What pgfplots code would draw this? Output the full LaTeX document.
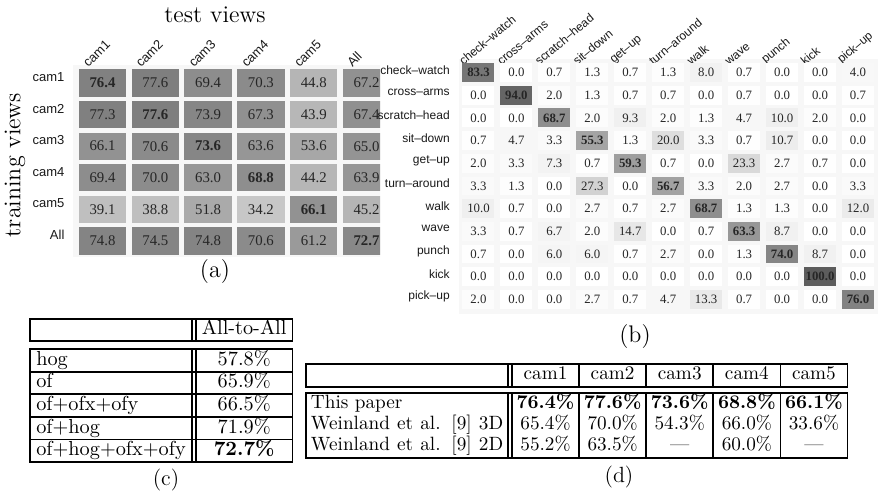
\documentclass[border=0pt]{standalone}
\usepackage{pgfplots}
\pgfplotsset{compat=1.18}
\usepackage{pgfplotstable}
\usepackage{graphicx}
\usepackage{fontspec}
\newfontfamily\helv{Liberation Sans}
\newfontfamily\timesf{Liberation Serif}

% heat-map cells, fixed size, filled with the colour mapped from the cell value
\pgfdeclareplotmark{cellA}{\pgfsetfillcolor{mapped color}\pgfpathrectangle{\pgfpoint{-11.85pt}{-6.8pt}}{\pgfpoint{23.7pt}{13.6pt}}\pgfusepathqfill}
\pgfdeclareplotmark{cellB}{\pgfsetfillcolor{mapped color}\pgfpathrectangle{\pgfpoint{-8pt}{-4.7pt}}{\pgfpoint{16pt}{9.4pt}}\pgfusepathqfill}
% an empty mark that only carries the value label
\pgfdeclareplotmark{blank}{}

% (a) accuracy: column c = test view, row r = training view (cam1 = 5 ... All = 0)
\pgfplotstableread{
c r v
1 5 77.6
2 5 69.4
3 5 70.3
4 5 44.8
5 5 67.2
0 4 77.3
2 4 73.9
3 4 67.3
4 4 43.9
5 4 67.4
0 3 66.1
1 3 70.6
3 3 63.6
4 3 53.6
5 3 65.0
0 2 69.4
1 2 70.0
2 2 63.0
4 2 44.2
5 2 63.9
0 1 39.1
1 1 38.8
2 1 51.8
3 1 34.2
5 1 45.2
0 0 74.8
1 0 74.5
2 0 74.8
3 0 70.6
4 0 61.2
}\viewtab
\pgfplotstableread{
c r v
0 5 76.4
1 4 77.6
2 3 73.6
3 2 68.8
4 1 66.1
5 0 72.7
}\viewdiag

% (b) confusion matrix: column c = predicted, row r = true (check-watch = 10 ... pick-up = 0)
\pgfplotstableread{
c r v
1 10 0.0
2 10 0.7
3 10 1.3
4 10 0.7
5 10 1.3
6 10 8.0
7 10 0.7
8 10 0.0
9 10 0.0
10 10 4.0
0 9 0.0
2 9 2.0
3 9 1.3
4 9 0.7
5 9 0.7
6 9 0.0
7 9 0.7
8 9 0.0
9 9 0.0
10 9 0.7
0 8 0.0
1 8 0.0
3 8 2.0
4 8 9.3
5 8 2.0
6 8 1.3
7 8 4.7
8 8 10.0
9 8 2.0
10 8 0.0
0 7 0.7
1 7 4.7
2 7 3.3
4 7 1.3
5 7 20.0
6 7 3.3
7 7 0.7
8 7 10.7
9 7 0.0
10 7 0.0
0 6 2.0
1 6 3.3
2 6 7.3
3 6 0.7
5 6 0.7
6 6 0.0
7 6 23.3
8 6 2.7
9 6 0.7
10 6 0.0
0 5 3.3
1 5 1.3
2 5 0.0
3 5 27.3
4 5 0.0
6 5 3.3
7 5 2.0
8 5 2.7
9 5 0.0
10 5 3.3
0 4 10.0
1 4 0.7
2 4 0.0
3 4 2.7
4 4 0.7
5 4 2.7
7 4 1.3
8 4 1.3
9 4 0.0
10 4 12.0
0 3 3.3
1 3 0.7
2 3 6.7
3 3 2.0
4 3 14.7
5 3 0.0
6 3 0.7
8 3 8.7
9 3 0.0
10 3 0.0
0 2 0.7
1 2 0.0
2 2 6.0
3 2 6.0
4 2 0.7
5 2 2.7
6 2 0.0
7 2 1.3
9 2 8.7
10 2 0.0
0 1 0.0
1 1 0.0
2 1 0.0
3 1 0.0
4 1 0.0
5 1 0.0
6 1 0.0
7 1 0.0
8 1 0.0
10 1 0.0
0 0 2.0
1 0 0.0
2 0 0.0
3 0 2.7
4 0 0.7
5 0 4.7
6 0 13.3
7 0 0.7
8 0 0.0
9 0 0.0
}\actiontab
\pgfplotstableread{
c r v
0 10 83.3
1 9 94.0
2 8 68.7
3 7 55.3
4 6 59.3
5 5 56.7
6 4 68.7
7 3 63.3
8 2 74.0
9 1 100.0
10 0 76.0
}\actiondiag

\pgfplotsset{
  heat/.style={
    axis background/.style={fill=black!3},
    axis line style={draw=none},
    major tick length=0pt,
    tick style={draw=none},
    colormap={gw}{color(0cm)=(white); color(1cm)=(black!64)},
    point meta min=0, point meta max=100,
    xticklabel pos=upper,
    ticklabel style={text=black!90},
  },
  % coloured cells only
  cells/.style={
    scatter, only marks, mark=#1,
    point meta=explicit,
    scatter/use mapped color={draw=none, fill=mapped color},
  },
  % cell values printed on top of the cells
  values/.style={
    only marks, mark=blank,
    mark options={draw=none, fill=none},
    point meta=explicit,
    nodes near coords={\pgfmathprintnumber[fixed,fixed zerofill,precision=1,assume math mode=true]{\pgfplotspointmeta}},
    every node near coord/.append style={anchor=center, text=black!85, font=#1},
  },
}

\begin{document}
\begin{tikzpicture}
\useasboundingbox (0,0) rectangle (439.5pt,248pt);

% (a) cross-view accuracy
\begin{scope}
\clip (0,0) rectangle (190pt,248pt);
\begin{axis}[heat,
  at={(36.73pt,119.6pt)}, anchor=south west,
  x=26.4pt, y=15.8pt,
  xmin=-0.55, xmax=5.55, ymin=-0.5, ymax=5.57,
  xtick={0,...,5}, xticklabels={cam1,cam2,cam3,cam4,cam5,All},
  ytick={0,...,5}, yticklabels={All,cam5,cam4,cam3,cam2,cam1},
  xticklabel style={font=\helv\fontsize{6.5}{7}\selectfont, inner sep=0.5pt, xshift=-7pt, yshift=-2.5pt, rotate=45, anchor=south west},
  yticklabel style={font=\helv\fontsize{6.5}{7}\selectfont, anchor=east, yshift=3pt, xshift=-1pt},
]
\addplot[cells=cellA] table[x=c, y=r, meta=v] {\viewtab};
\addplot[cells=cellA] table[x=c, y=r, meta=v] {\viewdiag};
\addplot[values={\timesf\fontsize{7.4}{8}\selectfont}] table[x=c, y=r, meta=v] {\viewtab};
\addplot[values={\timesf\bfseries\fontsize{7.4}{8}\selectfont}] table[x=c, y=r, meta=v] {\viewdiag};
\end{axis}
\end{scope}
\node[font=\fontsize{12}{14}\selectfont] at (107.5pt,240.5pt) {test views};
\node[font=\fontsize{12}{14}\selectfont, rotate=90] at (7.5pt,165.5pt) {training views};
\node[font=\fontsize{12}{14}\selectfont] at (107.5pt,112pt) {(a)};

% (b) per-action confusion matrix
\begin{axis}[heat,
  at={(229.38pt,91.21pt)}, anchor=south west,
  x=18.975pt, y=11.35pt,
  xmin=-0.52, xmax=10.52, ymin=-0.62, ymax=10.6,
  xtick={0,...,10},
  xticklabels={check–watch,cross–arms,scratch–head,sit–down,get–up,turn–around,walk,wave,punch,kick,pick–up},
  ytick={0,...,10},
  yticklabels={pick–up,kick,punch,wave,walk,turn–around,get–up,sit–down,scratch–head,cross–arms,check–watch},
  xticklabel style={font=\helv\fontsize{6}{7}\selectfont, inner sep=0.5pt, xshift=-7.5pt, yshift=-4.5pt, rotate=40, anchor=south west},
  yticklabel style={font=\helv\fontsize{6}{7}\selectfont, anchor=east, yshift=1.3pt, xshift=-1pt},
]
\addplot[cells=cellB] table[x=c, y=r, meta=v] {\actiontab};
\addplot[cells=cellB] table[x=c, y=r, meta=v] {\actiondiag};
\addplot[values={\timesf\fontsize{6.4}{7}\selectfont}] table[x=c, y=r, meta=v] {\actiontab};
\addplot[values={\timesf\bfseries\fontsize{6.4}{7}\selectfont}] table[x=c, y=r, meta=v] {\actiondiag};
\end{axis}
\node[font=\fontsize{12}{14}\selectfont] at (317.5pt,79.5pt) {(b)};

% (c) feature combinations
\node[anchor=north west, inner sep=0pt] at (14.5pt,89pt) {\resizebox{132pt}{!}{%
  \setlength{\tabcolsep}{2.5pt}\setlength{\arrayrulewidth}{0.9pt}%
  \setlength{\doublerulesep}{1.2pt}\renewcommand{\arraystretch}{0.76}%
  \begin{tabular}{|l||c|}
  \hline
   & All-to-All \\
  \hline\noalign{\vskip 3pt}\hline
  hog & 57.8\% \\ \hline
  of & 65.9\% \\ \hline
  of+ofx+ofy & 66.5\% \\ \hline
  of+hog & 71.9\% \\ \hline
  of+hog+ofx+ofy & \textbf{72.7\%} \\ \hline
  \end{tabular}}};
\node[font=\fontsize{11}{13}\selectfont] at (83pt,8pt) {(c)};

% (d) comparison per camera
\node[anchor=north west, inner sep=0pt] at (152.5pt,66.5pt) {\resizebox{271.5pt}{!}{%
  \setlength{\tabcolsep}{2pt}\setlength{\arrayrulewidth}{0.9pt}%
  \setlength{\doublerulesep}{1.2pt}\renewcommand{\arraystretch}{0.92}%
  \begin{tabular}{|l||c|c|c|c|c|}
  \hline
   & cam1 & cam2 & cam3 & cam4 & cam5 \\
  \hline\noalign{\vskip 2pt}\hline
  This paper & \textbf{76.4\%} & \textbf{77.6\%} & \textbf{73.6\%} & \textbf{68.8\%} & \textbf{66.1\%} \\
  \makebox[100pt][s]{Weinland et al. [9] 3D} & 65.4\% & 70.0\% & 54.3\% & 66.0\% & 33.6\% \\
  \makebox[100pt][s]{Weinland et al. [9] 2D} & 55.2\% & 63.5\% & --- & 60.0\% & --- \\
  \hline
  \end{tabular}}};
\node[font=\fontsize{11}{13}\selectfont] at (309.5pt,9.5pt) {(d)};
\end{tikzpicture}
\end{document}
